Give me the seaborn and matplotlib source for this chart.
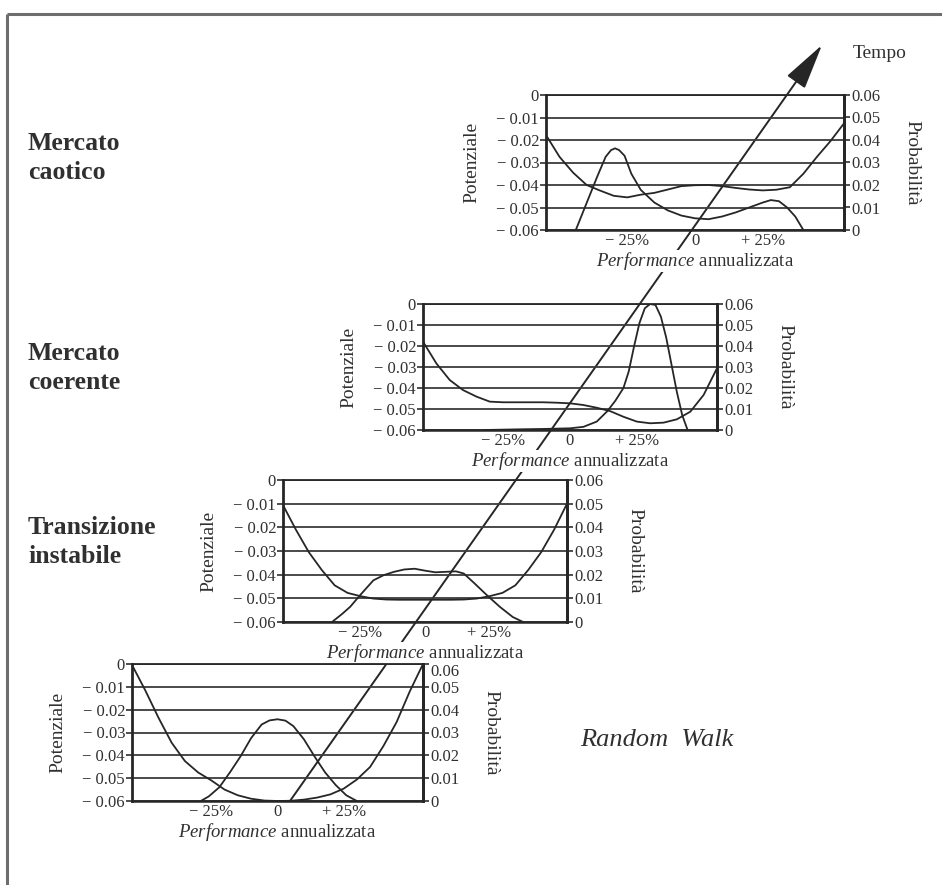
import matplotlib
matplotlib.use("Agg")
import matplotlib.pyplot as plt
import seaborn as sns

# ---------------------------------------------------------------- data
# horizontal axis: annualised performance, in percent
grid_x = [-55, -50, -45, -40, -35, -30, -25, -20, -15, -10, -5, 0,
          5, 10, 15, 20, 25, 30, 35, 40, 45, 50, 55]

# Mercato caotico
caotico_pot = [-0.0178, -0.0275, -0.0345, -0.0400, -0.0425, -0.0448, -0.0455,
               -0.0443, -0.0435, -0.0420, -0.0405, -0.0401, -0.0400, -0.0405,
               -0.0413, -0.0420, -0.0424, -0.0421, -0.0410, -0.0350, -0.0275,
               -0.0205, -0.0126]
caotico_prob_x = [-44, -40, -36, -33, -31, -29.5, -28, -26, -23.5, -20, -15,
                  -10, -5, 0, 5, 10, 15, 20, 25, 28, 31, 34, 37, 40]
caotico_prob = [0, 0.012, 0.024, 0.0325, 0.0355, 0.0363, 0.0355, 0.033,
                0.025, 0.0178, 0.0122, 0.0087, 0.0064, 0.0052, 0.0048,
                0.0060, 0.0078, 0.0100, 0.0122, 0.0133, 0.0128, 0.0100,
                0.0060, 0]

# Mercato coerente
coerente_pot = [-0.0179, -0.0283, -0.0362, -0.0410, -0.0441, -0.0465, -0.0468,
                -0.0468, -0.0468, -0.0468, -0.0470, -0.0473, -0.0481, -0.0494,
                -0.0510, -0.0537, -0.0560, -0.0568, -0.0565, -0.0549, -0.0513,
                -0.0433, -0.0306]
coerente_prob_x = [-32, -20, -10, 0, 5, 10, 14, 17, 20, 22, 24, 26, 28, 30,
                   32, 34, 36, 38, 40, 42, 44]
coerente_prob = [0, 0.0003, 0.0005, 0.0008, 0.0015, 0.004, 0.009, 0.014,
                 0.020, 0.028, 0.040, 0.051, 0.058, 0.060, 0.0595, 0.054,
                 0.044, 0.031, 0.018, 0.007, 0]

# Transizione instabile
transizione_pot = [-0.0106, -0.0210, -0.0305, -0.0380, -0.0445, -0.0477,
                   -0.0491, -0.0501, -0.0505, -0.0506, -0.0506, -0.0506,
                   -0.0506, -0.0506, -0.0505, -0.0501, -0.0491, -0.0477,
                   -0.0445, -0.0380, -0.0305, -0.0210, -0.0100]
transizione_prob_x = [-36, -32, -29, -25, -20, -16, -12, -8, -4, 0, 4, 8, 12,
                      15, 19, 24, 29, 34, 38]
transizione_prob = [0, 0.0035, 0.0064, 0.0115, 0.0176, 0.0198, 0.0212, 0.0222,
                    0.0225, 0.0217, 0.0210, 0.0212, 0.0214, 0.0205, 0.0165,
                    0.0113, 0.0064, 0.0021, 0]

# Random Walk
random_pot = [-0.0004, -0.0115, -0.0235, -0.0345, -0.0425, -0.0475, -0.0510,
              -0.0550, -0.0575, -0.0590, -0.0598, -0.0600, -0.0599, -0.0594,
              -0.0585, -0.0571, -0.0546, -0.0506, -0.0451, -0.0360, -0.0255,
              -0.0120, 0.0]
random_prob_x = [-29, -26, -22, -18, -14, -10, -6, -3, 0, 3, 6, 10, 14, 18,
                 22, 26, 30]
random_prob = [0, 0.002, 0.006, 0.0125, 0.0195, 0.0275, 0.0335, 0.0353,
               0.0358, 0.0352, 0.0328, 0.0270, 0.0195, 0.0125, 0.0070,
               0.0025, 0]

# tick values and labels
pot_ticks = [0, -0.01, -0.02, -0.03, -0.04, -0.05, -0.06]
pot_labels = ["0", "\u2212 0.01", "\u2212 0.02", "\u2212 0.03", "\u2212 0.04",
              "\u2212 0.05", "\u2212 0.06"]
prob_ticks = [0.06, 0.05, 0.04, 0.03, 0.02, 0.01, 0]
prob_labels = ["0.06", "0.05", "0.04", "0.03", "0.02", "0.01", "0"]
x_ticks = [-25, 0, 25]
x_labels = ["\u2212 25%", "0", "+ 25%"]

panel_titles = ["Mercato\ncaotico", "Mercato\ncoerente",
                "Transizione\ninstabile", "Random  Walk"]

# ---------------------------------------------------------------- style
sns.set_theme(style="ticks")
plt.rcParams["font.family"] = ["Liberation Serif", "DejaVu Serif"]
plt.rcParams["mathtext.fontset"] = "custom"
plt.rcParams["mathtext.it"] = "Liberation Serif:italic"
plt.rcParams["mathtext.rm"] = "Liberation Serif"

INK = "#262626"
GRID = "#3c3c3c"
TXT = "#303030"
W, H = 942, 885

fig = plt.figure(figsize=(W / 100, H / 100), dpi=100, facecolor="white")

# background layer in pixel coordinates: frame, arrow and side captions
bg = fig.add_axes([0, 0, 1, 1], zorder=-1)
bg.set_xlim(0, W)
bg.set_ylim(H, 0)
bg.axis("off")
bg.plot([7, 7], [H, 14], color="#6e6e6e", lw=2.2, solid_capstyle="butt")
bg.plot([7, W], [14, 14], color="#6e6e6e", lw=2.2, solid_capstyle="butt")

bg.annotate("", xy=(822, 45), xytext=(290, 801),
            arrowprops=dict(arrowstyle="-|>,head_length=1.6,head_width=0.38",
                            mutation_scale=18, lw=1.4, color=INK,
                            shrinkA=0, shrinkB=0))
bg.text(853, 54, "Tempo", fontsize=14, color=TXT, va="center", ha="left")

# panel boxes in pixels: left, right, top, bottom
boxes = [(546, 844, 95, 230),
         (423, 717, 304, 430),
         (283, 567, 480, 622),
         (132, 423, 664, 801)]
pots = [caotico_pot, coerente_pot, transizione_pot, random_pot]
probs = [(caotico_prob_x, caotico_prob), (coerente_prob_x, coerente_prob),
         (transizione_prob_x, transizione_prob), (random_prob_x, random_prob)]
title_pos = [(28, 158), (28, 368), (28, 542), (580, 740)]

for i, ((l, r, t, b), pot, (px, pp)) in enumerate(zip(boxes, pots, probs)):
    ax = fig.add_axes([l / W, 1 - b / H, (r - l) / W, (b - t) / H])
    ax.patch.set_alpha(0)
    sns.lineplot(x=grid_x, y=pot, ax=ax, color=INK, lw=1.3)
    ax.set_xlim(-55, 55)
    ax.set_ylim(-0.06, 0)
    ax.set_yticks(pot_ticks)
    ax.set_yticklabels(pot_labels)
    ax.set_xticks(x_ticks)
    ax.set_xticklabels(x_labels)
    ax.grid(axis="y", color=GRID, lw=1.3)
    ax.grid(axis="x", visible=False)
    ax.tick_params(axis="y", direction="out", length=4, width=1.2, pad=1,
                   labelsize=12, colors=TXT, left=True)
    ax.tick_params(axis="x", length=0, pad=2, labelsize=12, colors=TXT)
    for lbl in ax.get_xticklabels():
        lbl.set_bbox(dict(fc="white", ec="none", pad=0.3))
    for side, w in (("left", 2.0), ("right", 2.0), ("bottom", 1.8), ("top", 1.3)):
        ax.spines[side].set_visible(True)
        ax.spines[side].set_linewidth(w)
        ax.spines[side].set_color(INK)

    ax.set_xlabel(r"$\mathit{Performance}$ annualizzata", fontsize=13.5,
                  color=TXT)
    ax.xaxis.set_label_coords(0.5, -20 / (b - t))
    ax.xaxis.label.set_bbox(dict(fc="white", ec="none", pad=0.2))
    ax.set_ylabel("")

    ax2 = ax.twinx()
    sns.lineplot(x=px, y=pp, ax=ax2, color=INK, lw=1.3)
    ax2.set_ylim(0, 0.06)
    ax2.set_yticks(prob_ticks)
    ax2.set_yticklabels(prob_labels)
    ax2.grid(False)
    ax2.tick_params(axis="y", direction="out", length=4, width=1.2, pad=1,
                    labelsize=12, colors=TXT, right=True)
    if i == 3:
        # top label hangs below its tick, clear of the caption above
        ax2.get_yticklabels()[0].set_verticalalignment("top")
    for side in ("left", "top", "bottom"):
        ax2.spines[side].set_visible(False)
    ax2.spines["right"].set_linewidth(2.0)
    ax2.spines["right"].set_color(INK)
    ax2.set_ylabel("")

    cy = (t + b) / 2
    bg.text(l - 74, cy, "Potenziale", rotation=90, fontsize=14, color=TXT,
            ha="center", va="center")
    bg.text(r + 68, cy, "Probabilit\u00e0", rotation=270, fontsize=14,
            color=TXT, ha="center", va="center")

    tx, ty = title_pos[i]
    if i < 3:
        bg.text(tx, ty, panel_titles[i], fontsize=18.5, fontweight="bold",
                color=TXT, ha="left", va="center", linespacing=1.35)
    else:
        bg.text(tx, ty, panel_titles[i], fontsize=19, style="italic",
                color=TXT, ha="left", va="center")

fig.savefig("out.png", dpi=100, facecolor="white")
